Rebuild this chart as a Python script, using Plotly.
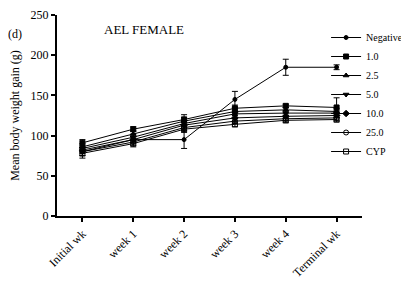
import plotly.graph_objects as go

categories = ["Initial wk", "week 1", "week 2", "week 3", "week 4", "Terminal wk"]
series_names = ["Negative", "1.0", "2.5", "5.0", "10.0", "25.0", "CYP"]

neg = [80, 95, 95, 145, 185, 185]
neg_err = [5, 4, 11, 10, 10, 3]
d1 = [91, 108, 120, 134, 137, 135]
d1_err = [4, 3, 6, 4, 2, 12]
d25 = [86, 102, 118, 130, 132, 130]
d25_err = [4, 4, 5, 4, 3, 4]
d5 = [84, 98, 115, 127, 128, 128]
d5_err = [4, 4, 4, 4, 3, 3]
d10 = [82, 95, 113, 122, 124, 125]
d10_err = [4, 4, 4, 3, 3, 3]
d25b = [80, 92, 110, 118, 121, 122]
d25b_err = [5, 4, 4, 3, 3, 3]
cyp = [78, 90, 108, 114, 119, 120]
cyp_err = [6, 4, 4, 3, 3, 3]

values = [neg, d1, d25, d5, d10, d25b, cyp]
errors = [neg_err, d1_err, d25_err, d5_err, d10_err, d25b_err, cyp_err]
symbols = ["circle", "square", "triangle-up", "triangle-down", "diamond", "circle-open", "square-open"]
sizes = [4, 5, 5, 5, 5, 5, 5]

FONT = "Liberation Serif"
OFF = 8  # page body margin offset
W, H = 409 - OFF, 281 - OFF
L, T = 57 - OFF, 15 - OFF
R, B = 47, 65
pw, ph = W - L - R, H - T - B


def px(xw):
    return (xw - OFF - L) / pw


def py(yw):
    return 1 - (yw - OFF - T) / ph


fig = go.Figure()
for name, v, e, s, sz in zip(series_names, values, errors, symbols, sizes):
    fig.add_trace(go.Scatter(
        x=categories, y=v, name=name, mode="lines+markers",
        line=dict(color="black", width=1),
        marker=dict(symbol=s, size=sz, color="black", line=dict(color="black", width=1)),
        error_y=dict(type="data", array=e, color="black", thickness=1, width=3),
    ))

fig.update_layout(
    width=W, height=H,
    margin=dict(l=L, r=R, t=T, b=B, autoexpand=False),
    paper_bgcolor="white", plot_bgcolor="white",
    font=dict(family=FONT, size=12, color="black"),
    showlegend=True,
    legend=dict(x=px(409) - 0.003, y=py(23), xanchor="right", yanchor="top",
                font=dict(family=FONT, size=10, color="black"),
                bgcolor="rgba(0,0,0,0)", itemwidth=30, tracegroupgap=0,
                itemsizing="trace"),
    xaxis=dict(type="category", range=[-0.5, 5.5], showline=True, linecolor="black", linewidth=2,
               ticks="outside", ticklen=4, tickwidth=2, tickcolor="black", automargin=False,
               tickangle=-45, tickfont=dict(family=FONT, size=12), showgrid=False, zeroline=False),
    yaxis=dict(range=[0, 250], tickvals=[0, 50, 100, 150, 200, 250], showline=True, linecolor="black",
               linewidth=2, ticks="outside", ticklen=4, tickwidth=2, tickcolor="black", automargin=False,
               tickfont=dict(family=FONT, size=12), showgrid=False, zeroline=False,
               title=dict(text="Mean body weight gain (g)", font=dict(family=FONT, size=12), standoff=10)),
    annotations=[
        dict(text="AEL FEMALE", x=px(143.5), y=py(29), xref="paper", yref="paper",
             xanchor="center", yanchor="middle",
             showarrow=False, font=dict(family=FONT, size=13)),
        dict(text="(d)", x=px(15), y=py(34), xref="paper", yref="paper",
             xanchor="center", yanchor="middle",
             showarrow=False, font=dict(family=FONT, size=12)),
    ],
)
fig.write_html("out.html")
